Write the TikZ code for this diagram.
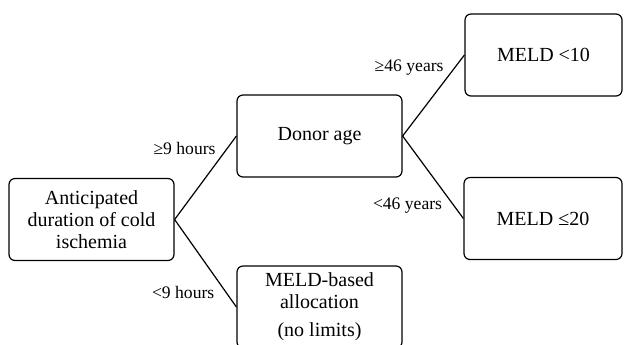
\documentclass[tikz,border=0pt]{standalone}
\usepackage{fontspec}
\setmainfont{Liberation Serif}

\tikzset{
	stage/.style={rectangle, rounded corners=3pt, draw, line width=0.6pt, align=center,
		minimum width=82.5pt, minimum height=41pt, inner sep=1pt,
		font=\fontsize{10}{11}\selectfont},
	branch/.style={line width=0.6pt},
	cond/.style={font=\fontsize{8.8}{10}\selectfont, inner sep=2pt, xshift=-3.5pt}
}

\begin{document}
\begin{tikzpicture}[x=0.5pt, y=-0.5pt]
		\clip (0, 0) rectangle (624, 344);
		
		% Cold ischemia
		\node[stage] (ischemia) at (91.5, 219.5) {Anticipated\\duration of cold\\ischemia};
		
		% Donor age
		\node[stage] (age) at (319.5, 136) {Donor age};
		
		% Allocation without limits
		\node[stage] (allocation) at (319.5, 307) {MELD-based\\allocation\\[3pt](no limits)};
		
		% MELD limits
		\node[stage, minimum width=78.5pt] (meldlow) at (543.5, 55) {MELD <10};
		\node[stage, minimum width=79pt] (meldhigh) at (543, 218.5) {MELD ≤20};
		
		% Branches
		\draw[branch] (ischemia.east) -- (age.west) node[cond, pos=0.85, left] {≥9 hours};
		\draw[branch] (ischemia.east) -- (allocation.west) node[cond, pos=0.83, left] {<9 hours};
		\draw[branch] (age.east) -- (meldlow.west) node[cond, pos=0.85, left] {≥46 years};
		\draw[branch] (age.east) -- (meldhigh.west) node[cond, pos=0.84, left] {<46 years};
	\end{tikzpicture}
\end{document}
